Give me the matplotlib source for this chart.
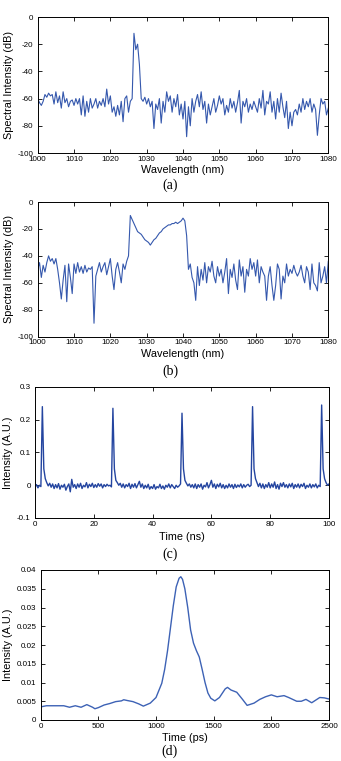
import numpy as np
import matplotlib
matplotlib.use("Agg")
import matplotlib.pyplot as plt
from matplotlib.ticker import FuncFormatter

plt.rcParams['font.family'] = ['Liberation Sans', 'DejaVu Sans']

# ---------------- data ----------------
# (a) spectrum, 1000-1080 nm, 0.5 nm step
wl_a_start, wl_a_stop = 1000, 1080
spec_a = [
    -60, -63, -65, -62, -57, -59, -56, -58, -57, -64,
    -55, -63, -58, -67, -55, -63, -60, -66, -62, -61,
    -65, -60, -64, -60, -72, -58, -73, -62, -70, -60,
    -67, -64, -60, -67, -62, -65, -60, -66, -53, -64,
    -58, -70, -66, -73, -65, -72, -62, -77, -60, -58,
    -70, -62, -60, -12, -24, -20, -35, -60, -62, -59,
    -64, -60, -66, -62, -82, -64, -68, -60, -78, -62,
    -70, -55, -62, -58, -70, -60, -66, -57, -72, -64,
    -75, -62, -88, -66, -80, -60, -70, -62, -57, -66,
    -55, -68, -62, -78, -64, -72, -66, -60, -70, -65,
    -58, -64, -60, -72, -65, -70, -60, -67, -62, -70,
    -63, -54, -78, -62, -66, -60, -70, -64, -68, -62,
    -66, -70, -60, -67, -54, -72, -62, -64, -55, -70,
    -62, -75, -60, -70, -56, -66, -74, -62, -82, -70,
    -80, -70, -68, -72, -64, -70, -60, -68, -62, -66,
    -60, -70, -64, -68, -87, -72, -60, -64, -62, -72,
    -67,
]

# (b) spectrum, 1000-1080 nm, 0.5 nm step
spec_b = [
    -50, -45, -56, -47, -52, -45, -40, -44, -42, -46,
    -42, -50, -60, -72, -58, -47, -74, -46, -56, -68,
    -46, -53, -45, -52, -48, -53, -47, -52, -49, -50,
    -48, -90, -55, -50, -45, -52, -48, -45, -54, -48,
    -42, -55, -65, -50, -45, -52, -60, -46, -50, -44,
    -40, -10, -13, -16, -19, -22, -23, -24, -26, -28,
    -29, -30, -32, -30, -28, -27, -25, -23, -22, -20,
    -19, -18, -17, -17, -16, -16, -15, -16, -15, -14,
    -12, -14, -25, -50, -46, -56, -60, -73, -48, -62,
    -50, -58, -45, -60, -48, -52, -44, -55, -60, -48,
    -55, -50, -60, -52, -42, -68, -50, -56, -46, -58,
    -65, -43, -55, -48, -67, -50, -55, -42, -50, -45,
    -55, -43, -60, -48, -52, -55, -73, -55, -48, -62,
    -73, -62, -46, -50, -72, -55, -60, -46, -55, -50,
    -53, -47, -52, -55, -52, -47, -55, -60, -48, -52,
    -65, -46, -60, -62, -66, -45, -60, -55, -48, -60,
    -44,
]

# (c) pulse train, 0-100 ns, 0.5 ns step
t_c_start, t_c_stop = 0, 100
pulse_c = [
    -0.005, 0.002, -0.008, 0.0, -0.004, 0.24, 0.05, 0.02, 0.008, -0.002,
    0.006, -0.006, 0.004, -0.01, 0.002, -0.008, 0.005, -0.012, 0.0, -0.006,
    0.003, -0.015, -0.004, 0.004, -0.02, 0.018, -0.006, 0.002, -0.01, 0.004,
    -0.006, 0.006, -0.01, 0.0, -0.005, 0.008, -0.008, 0.003, -0.004, 0.006,
    -0.007, 0.002, -0.006, 0.005, -0.003, 0.004, -0.008, 0.002, -0.004, 0.003,
    -0.002, 0.0, -0.005, 0.235, 0.05, 0.015, 0.008, 0.0, 0.006, -0.006,
    0.004, -0.008, 0.002, -0.004, 0.006, -0.01, 0.003, -0.006, 0.005, -0.008,
    0.002, 0.012, -0.006, 0.004, -0.01, 0.0, -0.008, 0.003, -0.012, -0.004,
    -0.01, 0.002, -0.012, -0.004, -0.008, 0.003, -0.01, -0.002, -0.012, 0.0,
    -0.006, 0.004, -0.008, 0.002, -0.004, -0.01, 0.0, -0.006, -0.002, 0.004,
    0.22, 0.05, 0.015, 0.006, -0.002, 0.004, -0.006, 0.002, -0.008, 0.004,
    -0.01, 0.002, -0.006, 0.004, -0.012, 0.0, -0.005, 0.008, -0.008, 0.002,
    0.015, -0.006, 0.004, -0.01, 0.003, -0.005, 0.006, -0.008, 0.002, -0.01,
    0.0, -0.008, 0.004, -0.006, 0.002, -0.01, 0.003, -0.007, 0.001, -0.005,
    0.004, -0.008, 0.002, -0.006, 0.0, 0.003, -0.004, 0.0, 0.24, 0.05,
    0.02, 0.008, -0.004, 0.006, -0.008, 0.004, -0.01, 0.002, -0.006, 0.008,
    -0.008, 0.004, -0.006, 0.01, -0.01, 0.002, -0.012, 0.006, -0.004, 0.008,
    -0.006, 0.002, -0.008, 0.004, -0.005, 0.006, -0.01, 0.002, -0.006, 0.004,
    -0.008, 0.003, -0.004, 0.006, -0.01, 0.0, -0.006, 0.004, -0.008, 0.002,
    -0.005, 0.004, -0.008, 0.0, -0.004, 0.245, 0.05, 0.02, 0.008, 0.0,
    0.004,
]

# (d) single pulse, time (ps) and intensity
t_d = [0, 50, 100, 150, 200, 250, 300, 350, 400, 450, 470, 500, 550, 600,
       650, 700, 720, 750, 800, 850, 890, 950, 1000, 1050, 1075, 1100, 1125,
       1150, 1175, 1200, 1215, 1230, 1250, 1275, 1300, 1325, 1350, 1375, 1400,
       1425, 1450, 1475, 1510, 1550, 1600, 1620, 1650, 1700, 1750, 1790, 1850,
       1900, 1950, 2000, 2050, 2110, 2150, 2220, 2260, 2300, 2350, 2420,
       2460, 2500]
int_d = [0.0035, 0.0038, 0.0038, 0.0038, 0.0038, 0.0034, 0.0038, 0.0034,
         0.0041, 0.0034, 0.0030, 0.0033, 0.0040, 0.0044, 0.0049, 0.0051,
         0.0054, 0.0052, 0.0049, 0.0043, 0.0037, 0.0045, 0.0060, 0.0098,
         0.0135, 0.0185, 0.0245, 0.0305, 0.0355, 0.0378, 0.0382, 0.0375,
         0.0350, 0.0300, 0.0240, 0.0205, 0.0185, 0.0168, 0.0135, 0.0100,
         0.0072, 0.0058, 0.0051, 0.0060, 0.0083, 0.0087, 0.0080, 0.0074,
         0.0055, 0.0039, 0.0045, 0.0055, 0.0062, 0.0067, 0.0062, 0.0065,
         0.0060, 0.0050, 0.0050, 0.0055, 0.0046, 0.0060, 0.0059, 0.0056]

# ---------------- figure ----------------
W, H = 341, 761
fig = plt.figure(figsize=(W / 100, H / 100), dpi=100)

def px_axes(left, top, right, bottom):
    return fig.add_axes([left / W, 1 - bottom / H, (right - left) / W, (bottom - top) / H])

fmt = FuncFormatter(lambda v, p: '%g' % v)

def style(ax, xlabel, ylabel, xl_y, yl_x):
    ax.tick_params(direction='in', length=3, width=0.6, labelsize=5.8,
                   top=True, right=True)
    ax.tick_params(axis='x', pad=2)
    ax.tick_params(axis='y', pad=3)
    for s in ax.spines.values():
        s.set_linewidth(0.7)
    ax.set_xlabel(xlabel, fontsize=7.8, va='center')
    ax.set_ylabel(ylabel, fontsize=7.8, va='center')
    ax.xaxis.set_label_coords(0.5, xl_y)
    ax.yaxis.set_label_coords(yl_x, 0.5)
    ax.xaxis.set_major_formatter(fmt)
    ax.yaxis.set_major_formatter(fmt)

blue = '#3558ad'

# (a)
ax = px_axes(37.7, 17, 328.3, 153)
wl_a = np.linspace(wl_a_start, wl_a_stop, len(spec_a))
ax.plot(wl_a, spec_a, color=blue, lw=0.8)
ax.set_xlim(1000, 1080)
ax.set_ylim(-100, 0)
ax.set_xticks(np.arange(1000, 1081, 10))
ax.set_yticks(np.arange(-100, 1, 20))
style(ax, 'Wavelength (nm)', 'Spectral Intensity (dB)', -(170 - 153) / 136, -(37.7 - 9.3) / 290.6)

# (b)
ax = px_axes(37.7, 202, 328.3, 336.7)
wl_b = np.linspace(wl_a_start, wl_a_stop, len(spec_b))
ax.plot(wl_b, spec_b, color=blue, lw=0.8)
ax.set_xlim(1000, 1080)
ax.set_ylim(-100, 0)
ax.set_xticks(np.arange(1000, 1081, 10))
ax.set_yticks(np.arange(-100, 1, 20))
style(ax, 'Wavelength (nm)', 'Spectral Intensity (dB)', -(354.3 - 336.7) / 134.7, -(37.7 - 9.3) / 290.6)

# (c)
ax = px_axes(35, 387, 329, 518)
t_c = np.linspace(t_c_start, t_c_stop, len(pulse_c))
ax.plot(t_c, pulse_c, color='#2445a0', lw=1.0)
ax.set_xlim(0, 100)
ax.set_ylim(-0.1, 0.3)
ax.set_xticks(np.arange(0, 101, 20))
ax.set_yticks([-0.1, 0, 0.1, 0.2, 0.3])
style(ax, 'Time (ns)', 'Intensity (A.U.)', -(536.7 - 518) / 131, -(35 - 8.3) / 294)

# (d)
ax = px_axes(40.7, 570, 329, 720)
ax.plot(t_d, int_d, color='#3d62b5', lw=1.0)
ax.set_xlim(0, 2500)
ax.set_ylim(0, 0.04)
ax.set_xticks(np.arange(0, 2501, 500))
ax.set_yticks(np.arange(0, 0.0401, 0.005))
style(ax, 'Time (ps)', 'Intensity (A.U.)', -(737.7 - 720) / 150, -(40.7 - 8.3) / 288.3)

# captions
for lab, yc in [('(a)', 185), ('(b)', 371.7), ('(c)', 554), ('(d)', 751.5)]:
    fig.text(170 / W, 1 - yc / H, lab, ha='center', va='center', fontsize=10,
             family=['Liberation Serif', 'DejaVu Serif'])

fig.savefig('out.png', dpi=100)
